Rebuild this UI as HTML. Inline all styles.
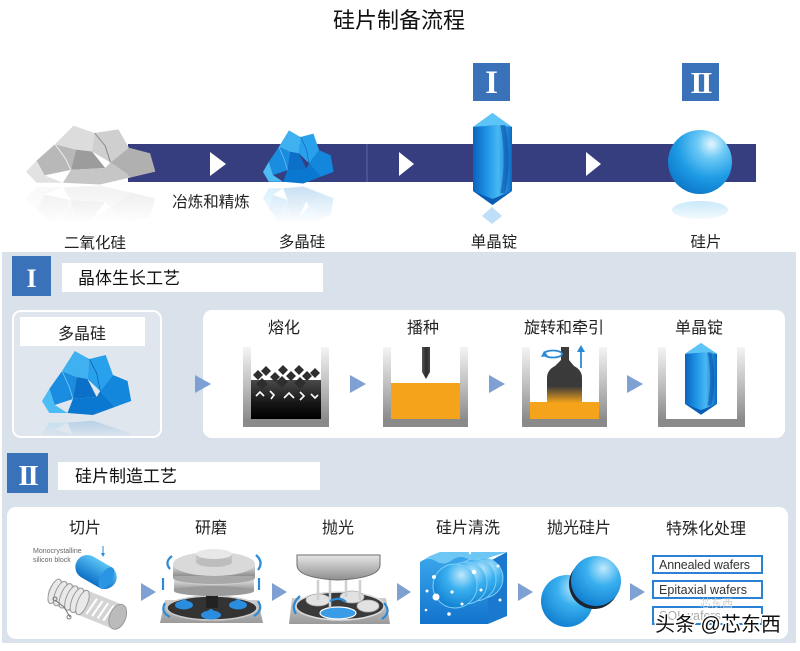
<!DOCTYPE html>
<html><head><meta charset="utf-8">
<style>
html,body{margin:0;padding:0;background:#fff;}
svg{display:block;}
text{font-family:"Liberation Sans","Noto Sans CJK SC",sans-serif;}
</style></head><body>
<svg width="800" height="651" viewBox="0 0 800 651" xmlns="http://www.w3.org/2000/svg">
<defs>
  <g id="blueC">
    <polygon points="8,42 22,24 38,30 34,52 14,58" fill="#1a8de0"/>
    <polygon points="22,24 36,4 52,12 50,32 38,30" fill="#3fb0f0"/>
    <polygon points="38,30 50,32 60,50 34,52" fill="#0c6fc8"/>
    <polygon points="50,32 52,12 70,8 78,28 64,44" fill="#28a0ec"/>
    <polygon points="64,44 78,28 94,34 98,54 80,60" fill="#1287dc"/>
    <polygon points="34,52 60,50 64,44 80,60 56,68 28,66" fill="#0a78d0"/>
    <polygon points="0,54 8,42 14,58 28,66 8,66" fill="#4bbcf4"/>
    <polyline points="22,24 30,40 34,52" fill="none" stroke="#7fd0fa" stroke-width="0.8"/>
    <polyline points="52,12 60,26 64,44" fill="none" stroke="#0a5fb0" stroke-width="0.8"/>
  </g>
  <g id="greyC">
    <polygon points="8,42 22,24 38,30 34,52 14,58" fill="#b8b8b8"/>
    <polygon points="22,24 36,4 52,12 50,32 38,30" fill="#dcdcdc"/>
    <polygon points="38,30 50,32 60,50 34,52" fill="#9c9c9c"/>
    <polygon points="50,32 52,12 70,8 78,28 64,44" fill="#cfcfcf"/>
    <polygon points="64,44 78,28 94,34 98,54 80,60" fill="#b0b0b0"/>
    <polygon points="34,52 60,50 64,44 80,60 56,68 28,66" fill="#c6c6c6"/>
    <polygon points="0,54 8,42 14,58 28,66 8,66" fill="#e2e2e2"/>
    <polyline points="22,24 30,40 34,52" fill="none" stroke="#efefef" stroke-width="0.8"/>
    <polyline points="52,12 60,26 64,44" fill="none" stroke="#8a8a8a" stroke-width="0.8"/>
  </g>
  <clipPath id="clipTop"><rect x="0" y="184" width="800" height="38"/></clipPath>
  <clipPath id="clipBox"><rect x="14" y="312" width="146" height="124" rx="7"/></clipPath>
  <linearGradient id="ingG" x1="0" y1="0" x2="1" y2="0">
    <stop offset="0" stop-color="#0b63c0"/>
    <stop offset="0.35" stop-color="#1e94e6"/>
    <stop offset="0.65" stop-color="#48b8f2"/>
    <stop offset="1" stop-color="#0a68c4"/>
  </linearGradient>
  <g id="ingot">
    <polygon points="20,0 40,14 40,78 20,92 0,78 0,14" fill="url(#ingG)"/>
    <polygon points="20,0 40,14 24,12 0,14" fill="#5cc4f6"/>
    <path d="M28,12 Q35,46 28,80 L33,80 Q40,46 33,12 Z" fill="#0a4fa8" opacity="0.55"/>
    <polygon points="0,78 20,92 40,78 20,86" fill="#0a5cb5"/>
  </g>
  <radialGradient id="sphG" cx="0.68" cy="0.22" r="0.9">
    <stop offset="0" stop-color="#e4f6fe"/>
    <stop offset="0.25" stop-color="#6cc9f5"/>
    <stop offset="0.6" stop-color="#1d9be5"/>
    <stop offset="1" stop-color="#0a70c2"/>
  </radialGradient>
  <radialGradient id="wafG" cx="0.65" cy="0.25" r="0.85">
    <stop offset="0" stop-color="#bfe9fc"/>
    <stop offset="0.4" stop-color="#3ab0ef"/>
    <stop offset="1" stop-color="#0b78cc"/>
  </radialGradient>
  <linearGradient id="wallG" x1="0" y1="0" x2="0" y2="1">
    <stop offset="0" stop-color="#f4f4f4"/>
    <stop offset="0.5" stop-color="#bcbcbc"/>
    <stop offset="1" stop-color="#808080"/>
  </linearGradient>
  <linearGradient id="meltG" x1="0" y1="0" x2="0" y2="1">
    <stop offset="0" stop-color="#4a4a4a"/>
    <stop offset="0.6" stop-color="#151515"/>
    <stop offset="1" stop-color="#000"/>
  </linearGradient>
  <linearGradient id="bellG" x1="0" y1="0" x2="0" y2="1">
    <stop offset="0" stop-color="#3c3c3c"/>
    <stop offset="0.7" stop-color="#3a3a3a"/>
    <stop offset="1" stop-color="#f5a31a"/>
  </linearGradient>
  <linearGradient id="rodG" x1="0" y1="0" x2="1" y2="0">
    <stop offset="0" stop-color="#555"/>
    <stop offset="0.5" stop-color="#2c2c2c"/>
    <stop offset="1" stop-color="#444"/>
  </linearGradient>
  <linearGradient id="greyV" x1="0" y1="0" x2="0" y2="1">
    <stop offset="0" stop-color="#e6e6e6"/>
    <stop offset="1" stop-color="#8e8e8e"/>
  </linearGradient>
  <linearGradient id="plat" x1="0" y1="0" x2="0" y2="1">
    <stop offset="0" stop-color="#cfcfcf"/>
    <stop offset="1" stop-color="#9a9a9a"/>
  </linearGradient>
  <linearGradient id="boxG" x1="0" y1="0" x2="0" y2="1">
    <stop offset="0" stop-color="#3aa6ec"/>
    <stop offset="1" stop-color="#1273cc"/>
  </linearGradient>
  <linearGradient id="capG" x1="0" y1="0" x2="0" y2="1">
    <stop offset="0" stop-color="#5cc4f6"/>
    <stop offset="1" stop-color="#0b6fc6"/>
  </linearGradient>
  <linearGradient id="fadeW" x1="0" y1="0" x2="0" y2="1">
    <stop offset="0" stop-color="#fff" stop-opacity="0"/>
    <stop offset="1" stop-color="#fff" stop-opacity="1"/>
  </linearGradient>
  <linearGradient id="fadeP" x1="0" y1="0" x2="0" y2="1">
    <stop offset="0" stop-color="#dfe6ed" stop-opacity="0"/>
    <stop offset="1" stop-color="#dfe6ed" stop-opacity="1"/>
  </linearGradient>
</defs>

<!-- Title -->
<text x="399" y="28" font-size="22" text-anchor="middle" fill="#111">硅片制备流程</text>

<!-- Top band -->
<rect x="128" y="144" width="628" height="38" fill="#363e7f"/>
<rect x="366" y="144" width="2" height="38" fill="#4a5290"/>
<polygon points="210,152 226,164 210,176" fill="#fff"/>
<polygon points="399,152 414,164 399,176" fill="#fff"/>
<polygon points="586,152 601,164 586,176" fill="#fff"/>

<!-- grey rocks -->
<use href="#greyC" transform="translate(26,122) scale(1.32,0.92)"/>
<g opacity="0.2" clip-path="url(#clipTop)"><use href="#greyC" transform="translate(26,248) scale(1.32,-0.92)"/></g>
<rect x="20" y="190" width="145" height="34" fill="url(#fadeW)"/>

<!-- blue crystal top -->
<use href="#blueC" transform="translate(263,127) scale(0.72,0.83)"/>
<g opacity="0.2" clip-path="url(#clipTop)"><use href="#blueC" transform="translate(263,243) scale(0.72,-0.83)"/></g>
<rect x="258" y="190" width="82" height="34" fill="url(#fadeW)"/>

<!-- ingot top -->
<rect x="473" y="63" width="37" height="38" fill="#3a72b9"/>
<text x="491.5" y="93" font-size="33" font-weight="bold" text-anchor="middle" fill="#fff" style="font-family:'Liberation Serif',serif">I</text>
<use href="#ingot" transform="translate(473,113) scale(0.975,1)"/>
<polygon points="492,207 502,216 492,224 482,216" fill="#6fb9ee" opacity="0.45"/>

<!-- sphere -->
<rect x="682" y="63" width="37" height="38" fill="#3a72b9"/>
<text x="700.5" y="93" font-size="31" font-weight="bold" text-anchor="middle" fill="#fff" letter-spacing="-2" style="font-family:'Liberation Serif',serif">II</text>
<circle cx="700" cy="162" r="32" fill="url(#sphG)"/>
<ellipse cx="700" cy="210" rx="28" ry="9" fill="#8fd0f4" opacity="0.45"/>
<rect x="665" y="202" width="72" height="22" fill="url(#fadeW)"/>

<!-- top labels -->
<g font-size="15.5" fill="#222" text-anchor="middle">
  <text x="95" y="248">二氧化硅</text>
  <text x="302" y="247">多晶硅</text>
  <text x="494" y="247">单晶锭</text>
  <text x="706" y="247">硅片</text>
  <text x="211" y="207">冶炼和精炼</text>
</g>

<!-- panel background -->
<rect x="2" y="252" width="794" height="391" fill="#d9e2ea"/>

<!-- Section I header -->
<rect x="12" y="256" width="39" height="40" fill="#3a72b9"/>
<text x="31.5" y="287" font-size="26" font-weight="bold" text-anchor="middle" fill="#fff" style="font-family:'Liberation Serif',serif">I</text>
<rect x="62" y="263" width="261" height="29" fill="#fff"/>
<text x="78" y="284" font-size="17" fill="#111">晶体生长工艺</text>

<!-- left polysilicon box -->
<rect x="13" y="311" width="148" height="126" rx="8" fill="#dfe6ed" stroke="#fff" stroke-width="2"/>
<rect x="20" y="317" width="125" height="29" fill="#fff"/>
<text x="82" y="339" font-size="16" text-anchor="middle" fill="#222">多晶硅</text>
<use href="#blueC" transform="translate(42,347) scale(0.91,1.0)"/>
<g clip-path="url(#clipBox)">
  <g opacity="0.22"><use href="#blueC" transform="translate(42,482) scale(0.91,-0.9)"/></g>
  <rect x="14" y="418" width="146" height="20" fill="url(#fadeP)"/>
</g>

<!-- big white panel I -->
<rect x="203" y="310" width="582" height="128" rx="9" fill="#fff"/>

<!-- arrows I -->
<g fill="#7fa0d2">
  <polygon points="195,375 211,384 195,393"/>
  <polygon points="350,375 366,384 350,393"/>
  <polygon points="489,375 505,384 489,393"/>
  <polygon points="627,375 643,384 627,393"/>
</g>

<!-- labels I -->
<g font-size="16" fill="#222" text-anchor="middle">
  <text x="284" y="333">熔化</text>
  <text x="423" y="333">播种</text>
  <text x="564" y="333">旋转和牵引</text>
  <text x="699" y="333">单晶锭</text>
</g>

<!-- crucible 1 -->
<rect x="251" y="380" width="70" height="39" fill="url(#meltG)"/>
<g fill="#2e2e2e">
  <polygon points="258,370 263,375 258,380 253,375"/>
  <polygon points="266,366 271,371 266,376 261,371"/>
  <polygon points="275,372 280,377 275,382 270,377"/>
  <polygon points="283,365 288,370 283,375 278,370"/>
  <polygon points="291,371 296,376 291,381 286,376"/>
  <polygon points="299,365 304,370 299,375 294,370"/>
  <polygon points="307,371 312,376 307,381 302,376"/>
  <polygon points="315,368 320,373 315,378 310,373"/>
  <polygon points="262,378 268,384 262,390 256,384"/>
  <polygon points="282,376 288,382 282,388 276,382"/>
  <polygon points="300,377 306,383 300,389 294,383"/>
</g>
<g fill="none" stroke="#fff" stroke-width="1.6">
  <polyline points="256,396 260,392 264,396"/>
  <polyline points="270,391 274,395 271,399"/>
  <polyline points="284,398 289,393 294,398"/>
  <polyline points="300,392 304,396 300,400"/>
  <polyline points="311,394 315,398 318,395"/>
</g>
<g fill="url(#wallG)">
  <rect x="243" y="347" width="8" height="80"/>
  <rect x="321" y="347" width="8" height="80"/>
</g>
<rect x="243" y="419" width="86" height="8" fill="#8a8a8a"/>

<!-- crucible 2 -->
<rect x="391" y="383" width="69" height="36" fill="#f5a31a"/>
<path d="M422,347 L430,347 L430,372 L426,379 L422,372 Z" fill="url(#rodG)"/>
<g fill="url(#wallG)">
  <rect x="383" y="347" width="8" height="80"/>
  <rect x="460" y="347" width="8" height="80"/>
</g>
<rect x="383" y="419" width="85" height="8" fill="#8a8a8a"/>

<!-- crucible 3 -->
<rect x="530" y="402" width="69" height="17" fill="#f5a31a"/>
<path d="M561,347 L569,347 L569,360 L574,366 Q582,370 582,378 L582,403 L547,403 L547,378 Q547,370 555,366 L561,360 Z" fill="url(#bellG)"/>
<ellipse cx="553" cy="354" rx="9" ry="3.5" fill="none" stroke="#2b8ad6" stroke-width="1.8"/>
<polygon points="544,351 548,356 541,357" fill="#2b8ad6"/>
<line x1="581" y1="368" x2="581" y2="351" stroke="#2b8ad6" stroke-width="1.8"/>
<polygon points="577,352 581,345 585,352" fill="#2b8ad6"/>
<g fill="url(#wallG)">
  <rect x="522" y="347" width="8" height="80"/>
  <rect x="599" y="347" width="8" height="80"/>
</g>
<rect x="522" y="419" width="85" height="8" fill="#8a8a8a"/>

<!-- crucible 4 -->
<use href="#ingot" transform="translate(685,343) scale(0.8,0.78)"/>
<g fill="url(#wallG)">
  <rect x="658" y="347" width="8" height="80"/>
  <rect x="737" y="347" width="8" height="80"/>
</g>
<rect x="658" y="419" width="87" height="8" fill="#8a8a8a"/>

<!-- Section II header -->
<rect x="7" y="453" width="41" height="40" fill="#3a72b9"/>
<text x="27.5" y="485" font-size="29" font-weight="bold" text-anchor="middle" fill="#fff" letter-spacing="-2" style="font-family:'Liberation Serif',serif">II</text>
<rect x="58" y="462" width="262" height="28" fill="#fff"/>
<text x="75" y="482" font-size="17" fill="#111">硅片制造工艺</text>

<!-- white panel II -->
<rect x="7" y="507" width="781" height="132" rx="9" fill="#fff"/>

<!-- labels II -->
<g font-size="16" fill="#222" text-anchor="middle">
  <text x="85" y="533">切片</text>
  <text x="211" y="533">研磨</text>
  <text x="338" y="533">抛光</text>
  <text x="468" y="533">硅片清洗</text>
  <text x="579" y="533">抛光硅片</text>
  <text x="706" y="534">特殊化处理</text>
</g>

<!-- arrows II -->
<g fill="#7fa0d2">
  <polygon points="141,583 156,592 141,601"/>
  <polygon points="272,583 287,592 272,601"/>
  <polygon points="397,583 411,592 397,601"/>
  <polygon points="518,583 533,592 518,601"/>
  <polygon points="630,583 645,592 630,601"/>
</g>

<!-- slicing -->
<text x="33" y="553" font-size="7" fill="#666">Monocrystalline</text>
<text x="33" y="562" font-size="7" fill="#666">silicon block</text>
<line x1="103" y1="546" x2="103" y2="554" stroke="#2b8ad6" stroke-width="1"/>
<polygon points="101,553 105,553 103,557" fill="#2b8ad6"/>
<g transform="translate(54,577) rotate(22)">
  <rect x="0" y="0" width="82" height="26" rx="12" fill="#d4d4d4"/>
  <g fill="#e9e9e9" stroke="#9a9a9a" stroke-width="1">
    <ellipse cx="6" cy="13" rx="5" ry="13"/>
    <ellipse cx="12" cy="13" rx="5" ry="13"/>
    <ellipse cx="18" cy="13" rx="5" ry="13"/>
    <ellipse cx="24" cy="13" rx="5" ry="13"/>
    <ellipse cx="30" cy="13" rx="5" ry="13"/>
    <ellipse cx="36" cy="13" rx="5" ry="13"/>
  </g>
  <g stroke="#fff" stroke-width="2">
    <line x1="48" y1="4" x2="44" y2="22"/>
    <line x1="54" y1="4" x2="50" y2="22"/>
    <line x1="60" y1="4" x2="56" y2="22"/>
    <line x1="66" y1="4" x2="62" y2="22"/>
  </g>
  <ellipse cx="74" cy="13" rx="8" ry="13" fill="#bbb" stroke="#999"/>
</g>
<g fill="none" stroke="#777" stroke-width="1">
  <polyline points="55,600 64,607 70,617"/>
  <circle cx="55" cy="599" r="2"/>
  <circle cx="69" cy="617" r="2"/>
</g>
<g transform="translate(96,572) rotate(30)">
  <rect x="-22" y="-12" width="44" height="24" rx="12" fill="url(#capG)"/>
  <ellipse cx="12" cy="0" rx="6" ry="12" fill="#2a95e4"/>
</g>

<!-- grinding -->
<polygon points="165,600 258,600 263,623 160,623" fill="url(#plat)"/>
<ellipse cx="212" cy="608" rx="45" ry="12" fill="#333" stroke="#ccc" stroke-width="1.5"/>
<rect x="206" y="594" width="12" height="14" fill="#222"/>
<g fill="#2a8de0">
  <ellipse cx="184" cy="605" rx="9" ry="4.5"/><circle cx="184" cy="602" r="3"/>
  <ellipse cx="238" cy="605" rx="9" ry="4.5"/><circle cx="238" cy="602" r="3"/>
  <ellipse cx="211" cy="615" rx="10" ry="4.5"/><circle cx="211" cy="612" r="3"/>
</g>
<rect x="174" y="579" width="80" height="12" fill="url(#greyV)"/>
<ellipse cx="214" cy="591" rx="40" ry="5" fill="#9a9a9a"/>
<ellipse cx="214" cy="579" rx="40" ry="6" fill="#cfcfcf"/>
<rect x="173" y="564" width="82" height="14" fill="url(#greyV)"/>
<ellipse cx="214" cy="578" rx="41" ry="6" fill="#a8a8a8"/>
<rect x="173" y="564" width="82" height="12" fill="url(#greyV)"/>
<ellipse cx="214" cy="564" rx="41" ry="12" fill="#d9d9d9"/>
<rect x="196" y="554" width="36" height="8" fill="#c4c4c4"/>
<ellipse cx="214" cy="562" rx="18" ry="5" fill="#bdbdbd"/>
<ellipse cx="214" cy="554" rx="18" ry="5" fill="#e8e8e8"/>
<g fill="none" stroke="#2b8ad6" stroke-width="2.2">
  <path d="M172,556 Q164,562 170,569"/>
  <path d="M256,555 Q264,562 258,570"/>
  <path d="M165,603 Q160,612 170,617"/>
  <path d="M258,601 Q264,610 254,616"/>
  <line x1="163" y1="578" x2="163" y2="590"/>
  <line x1="259" y1="578" x2="259" y2="590"/>
</g>

<!-- polishing -->
<polygon points="292,598 386,598 390,624 289,624" fill="url(#plat)"/>
<ellipse cx="340" cy="606" rx="44" ry="14" fill="#3a3a3a" stroke="#ddd" stroke-width="1.5"/>
<g fill="#e2e2e2" stroke="#aaa" stroke-width="0.8">
  <ellipse cx="318" cy="600" rx="12" ry="6"/>
  <ellipse cx="352" cy="597" rx="12" ry="6"/>
  <ellipse cx="368" cy="606" rx="11" ry="6"/>
</g>
<ellipse cx="338" cy="613" rx="18" ry="6" fill="#3a9be6" stroke="#fff" stroke-width="1.2"/>
<g stroke="#cfcfcf" stroke-width="2.5">
  <line x1="318" y1="580" x2="318" y2="600"/>
  <line x1="330" y1="580" x2="330" y2="608"/>
  <line x1="346" y1="580" x2="346" y2="597"/>
  <line x1="360" y1="580" x2="360" y2="600"/>
</g>
<path d="M297,555 L380,555 L380,565 Q380,578 338,580 Q297,578 297,565 Z" fill="url(#greyV)" stroke="#6e6e6e" stroke-width="1"/>
<g fill="none" stroke="#2b8ad6" stroke-width="2.2">
  <path d="M300,596 Q290,605 296,614"/>
  <path d="M384,603 Q392,612 382,619"/>
  <path d="M330,601 Q340,596 346,602"/>
</g>

<!-- cleaning -->
<polygon points="488,562 507,552 507,616 488,624" fill="#1a78cf"/>
<path d="M420,562 Q428,556 436,561 T452,560 T468,559 T488,558 L507,552 L440,552 L430,556 Z" fill="#6ec6f5"/>
<path d="M420,562 Q428,556 436,561 T452,560 T468,559 T488,558 L488,624 L420,624 Z" fill="url(#boxG)"/>
<g fill="url(#wafG)" stroke="#7ccdf6" stroke-width="1">
  <circle cx="483" cy="578" r="20"/>
  <circle cx="475" cy="580" r="21"/>
  <circle cx="466" cy="583" r="21"/>
  <circle cx="455" cy="586" r="22"/>
</g>
<g fill="#fff">
  <circle cx="434" cy="577" r="2"/><circle cx="427" cy="591" r="1.5"/>
  <circle cx="436" cy="597" r="3.5"/><circle cx="452" cy="592" r="1.6"/>
  <circle cx="462" cy="604" r="1.5"/><circle cx="474" cy="572" r="2.2"/>
  <circle cx="481" cy="590" r="1.5"/><circle cx="498" cy="566" r="1.5"/>
  <circle cx="449" cy="614" r="1.8"/><circle cx="470" cy="553" r="1.2"/>
  <circle cx="426" cy="610" r="1.3"/><circle cx="500" cy="600" r="1.5"/>
</g>

<!-- polished wafers -->
<circle cx="567" cy="601" r="26" fill="url(#wafG)"/>
<circle cx="594" cy="584" r="25" fill="#1c2430"/>
<circle cx="596" cy="581" r="25" fill="url(#wafG)"/>

<!-- wafer type boxes -->
<g fill="#fff" stroke="#2a82d6" stroke-width="2">
  <rect x="653" y="556" width="109" height="17"/>
  <rect x="653" y="581" width="109" height="17"/>
  <rect x="653" y="607" width="109" height="17"/>
</g>
<g font-size="12.5" fill="#333">
  <text x="659" y="569" textLength="91">Annealed wafers</text>
  <text x="659" y="594" textLength="88">Epitaxial wafers</text>
  <text x="659" y="620" fill="#aaa">SOI wafers</text>
</g>
<text x="700" y="607" font-size="11" fill="#cfcfcf">芯东西</text>
<text x="655" y="631" font-size="20" fill="#111" stroke="#fff" stroke-width="3" paint-order="stroke">头条 @芯东西</text>
</svg>
</body></html>
